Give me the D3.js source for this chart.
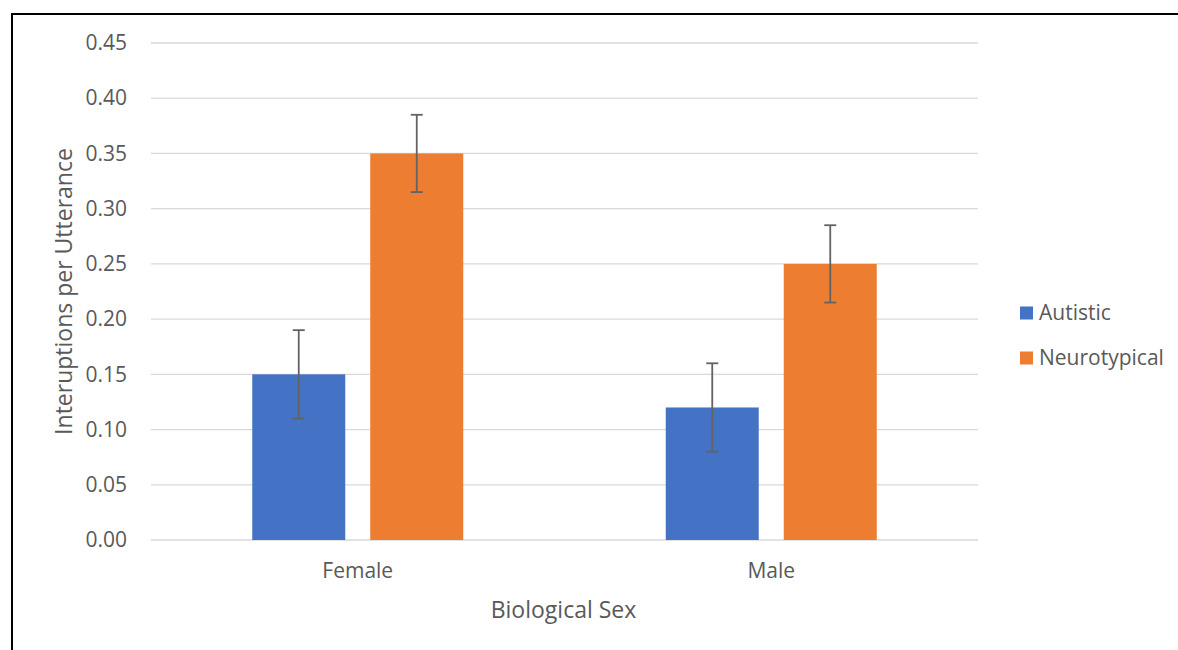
<!DOCTYPE html>
<html><head><meta charset="utf-8">
<script src="https://cdn.jsdelivr.net/npm/d3@7"></script>
<style>body{margin:0;background:#fff;}svg{display:block;}</style>
</head><body>
<svg id="c" width="1178" height="650"></svg>
<script>
const categories = ["Female", "Male"];
const seriesNames = ["Autistic", "Neurotypical"];
const autistic = [0.15, 0.12];
const autisticErr = [0.04, 0.04];
const neurotypical = [0.35, 0.25];
const neurotypicalErr = [0.035, 0.035];
const yTicks = [0, 0.05, 0.10, 0.15, 0.20, 0.25, 0.30, 0.35, 0.40, 0.45];
const colors = ["#4472C4", "#ED7D31"];

const svg = d3.select("#c");
const font = "'Open Sans', sans-serif";
svg.append("rect").attr("x", 12).attr("y", 14).attr("width", 1200).attr("height", 700)
  .attr("fill", "#fff").attr("stroke", "#000").attr("stroke-width", 2);

const L = 151, R = 978, T = 43, B = 540;
const x = d3.scaleBand().domain(categories).range([L, R]);
const xs = d3.scaleBand().domain(seriesNames).range([0, x.bandwidth()]).paddingInner(0.212).paddingOuter(0.858);
const y = d3.scaleLinear().domain([0, 0.45]).range([B, T]);

const grid = svg.append("g");
grid.selectAll("line").data(yTicks).join("line")
  .attr("x1", L).attr("x2", R).attr("y1", d => y(d)).attr("y2", d => y(d))
  .attr("stroke", "#d9d9d9").attr("stroke-width", 1.3);

const yAxis = d3.axisLeft(y).tickValues(yTicks).tickFormat(d3.format(".2f")).tickSize(0).tickPadding(24);
const ya = svg.append("g").attr("transform", `translate(${L},0)`).call(yAxis);
ya.select(".domain").remove();
ya.selectAll("text").attr("fill", "#595959").style("font-family", font).style("font-size", "21px");

const xAxis = d3.axisBottom(x).tickSize(0).tickPadding(23);
const xa = svg.append("g").attr("transform", `translate(0,${B})`).call(xAxis);
xa.select(".domain").remove();
xa.selectAll("text").attr("fill", "#595959").style("font-family", font).style("font-size", "21px");

const data = [];
categories.forEach((c, i) => {
  data.push({c, s: seriesNames[0], v: autistic[i], e: autisticErr[i], col: colors[0]});
  data.push({c, s: seriesNames[1], v: neurotypical[i], e: neurotypicalErr[i], col: colors[1]});
});

svg.append("g").selectAll("rect").data(data).join("rect")
  .attr("x", d => x(d.c) + xs(d.s)).attr("width", xs.bandwidth())
  .attr("y", d => y(d.v)).attr("height", d => y(0) - y(d.v)).attr("fill", d => d.col);

const eb = svg.append("g").attr("stroke", "#636363").attr("stroke-width", 1.8);
data.forEach(d => {
  const cx = x(d.c) + xs(d.s) + xs.bandwidth() / 2;
  eb.append("line").attr("x1", cx).attr("x2", cx).attr("y1", y(d.v + d.e)).attr("y2", y(d.v - d.e));
  [d.v + d.e, d.v - d.e].forEach(v => eb.append("line").attr("x1", cx - 6).attr("x2", cx + 6).attr("y1", y(v)).attr("y2", y(v)));
});

svg.append("text").attr("transform", `translate(72,${(T + B) / 2}) rotate(-90)`)
  .attr("text-anchor", "middle").attr("fill", "#595959").style("font-family", font).style("font-size", "23px")
  .text("Interuptions per Utterance");
svg.append("text").attr("x", (L + R) / 2 - 1).attr("y", 618).attr("text-anchor", "middle")
  .attr("fill", "#595959").style("font-family", font).style("font-size", "23px").text("Biological Sex");

const lg = svg.append("g");
seriesNames.forEach((s, i) => {
  const yy = 313 + i * 45;
  lg.append("rect").attr("x", 1020).attr("y", yy - 6.5).attr("width", 13).attr("height", 13).attr("fill", colors[i]);
  lg.append("text").attr("x", 1039).attr("y", yy).attr("dy", "0.35em").attr("fill", "#595959")
    .style("font-family", font).style("font-size", "21px").text(s);
});
</script>
</body></html>
